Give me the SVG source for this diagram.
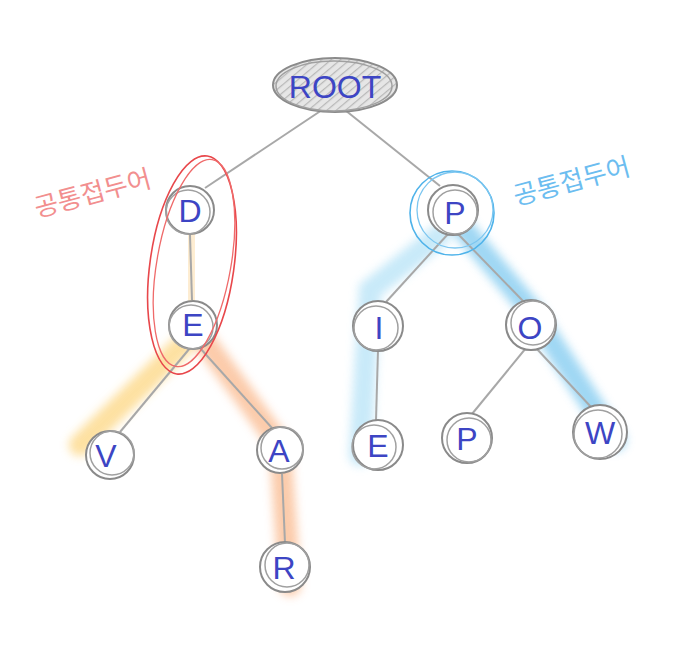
<svg xmlns="http://www.w3.org/2000/svg" width="684" height="668" viewBox="0 0 684 668">
<defs>
<filter id="blur" x="-50%" y="-50%" width="200%" height="200%"><feGaussianBlur stdDeviation="5"/></filter>
<pattern id="hatch" width="6" height="6" patternUnits="userSpaceOnUse" patternTransform="rotate(50)"><line x1="0" y1="0" x2="0" y2="6" stroke="#9a9a9a" stroke-width="2.5"/></pattern>
<style>
.edge{stroke:#a8a8a8;stroke-width:2;fill:none}
.node circle{fill:#fff;stroke:#8a8a8a;stroke-width:2}
.node .c2{fill:none;stroke:#a0a0a0;stroke-width:1.5}
.lbl{font-family:"Liberation Sans","Noto Sans",sans-serif;font-size:32px;fill:#3d45c4;text-anchor:middle;dominant-baseline:central}
.hl{fill:none;stroke-linecap:round;stroke-width:22;filter:url(#blur)}
.note{font-family:"Noto Sans CJK KR",sans-serif;font-size:26px}
</style>
</defs>
<rect width="684" height="668" fill="#fff"/>
<g id="highlights">
<path class="hl" d="M190 230 L193 325" stroke="#fde7c4" opacity="0.8"/>
<path class="hl" d="M193 335 L80 445" stroke="#fdd98a" opacity="0.8"/>
<path class="hl" d="M200 335 L280 445 L290 585" stroke="#fbc29c" opacity="0.85"/>
<path class="hl" d="M440 235 L370 290 L360 455" stroke="#bfe6f8" opacity="0.85"/>
<path class="hl" d="M460 225 L531 310 L615 440" stroke="#8fd0f2" opacity="0.85"/>
</g>
<g id="connectors">
<line class="edge" x1="322" y1="110" x2="205" y2="188"/>
<line class="edge" x1="345" y1="110" x2="440" y2="186"/>
<line class="edge" x1="190" y1="235" x2="192" y2="300"/>
<line class="edge" x1="190" y1="348" x2="120" y2="432"/>
<line class="edge" x1="200" y1="348" x2="272" y2="428"/>
<line class="edge" x1="282" y1="474" x2="285" y2="543"/>
<line class="edge" x1="448" y1="234" x2="386" y2="302"/>
<line class="edge" x1="458" y1="234" x2="524" y2="302"/>
<line class="edge" x1="378" y1="350" x2="376" y2="420"/>
<line class="edge" x1="526" y1="348" x2="472" y2="414"/>
<line class="edge" x1="536" y1="348" x2="592" y2="408"/>
</g>
<g id="root" class="node">
<ellipse cx="335" cy="85" rx="62" ry="27" fill="#e6e6e6" stroke="#8a8a8a" stroke-width="2"/>
<ellipse cx="335" cy="85" rx="62" ry="27" fill="url(#hatch)" opacity="0.6"/>
<ellipse cx="334" cy="86" rx="58" ry="25" fill="none" stroke="#a0a0a0" stroke-width="1.5"/>
<text class="lbl" x="335" y="87">ROOT</text>
</g>
<g id="node-D" class="node"><circle cx="190" cy="210" r="24"/><circle class="c2" cx="188" cy="212" r="22"/><text class="lbl" x="190" y="211">D</text></g>
<g id="node-E1" class="node"><circle cx="193" cy="325" r="24"/><circle class="c2" cx="191" cy="327" r="22"/><text class="lbl" x="193" y="325">E</text></g>
<g id="node-V" class="node"><circle cx="110" cy="455" r="24"/><circle class="c2" cx="112" cy="453" r="22"/><text class="lbl" x="106" y="456">V</text></g>
<g id="node-A" class="node"><circle cx="280" cy="450" r="23"/><circle class="c2" cx="282" cy="448" r="21"/><text class="lbl" x="279" y="451">A</text></g>
<g id="node-R" class="node"><circle cx="285" cy="567" r="25"/><circle class="c2" cx="287" cy="565" r="22"/><text class="lbl" x="284" y="568">R</text></g>
<g id="node-P" class="node"><circle cx="453" cy="210" r="25"/><circle class="c2" cx="455" cy="212" r="22"/><text class="lbl" x="455" y="213">P</text></g>
<g id="node-I" class="node"><circle cx="378" cy="326" r="25"/><circle class="c2" cx="376" cy="328" r="22"/><text class="lbl" x="379" y="328">I</text></g>
<g id="node-O" class="node"><circle cx="531" cy="325" r="25"/><circle class="c2" cx="533" cy="323" r="22"/><text class="lbl" x="530" y="328">O</text></g>
<g id="node-E2" class="node"><circle cx="378" cy="445" r="25"/><circle class="c2" cx="374" cy="447" r="22"/><text class="lbl" x="378" y="446">E</text></g>
<g id="node-P2" class="node"><circle cx="467" cy="438" r="25"/><circle class="c2" cx="469" cy="440" r="22"/><text class="lbl" x="467" y="439">P</text></g>
<g id="node-W" class="node"><circle cx="600" cy="432" r="27"/><circle class="c2" cx="598" cy="434" r="24"/><text class="lbl" x="600" y="433">W</text></g>
<g id="group-red">
<ellipse cx="192" cy="265" rx="42" ry="110" transform="rotate(8 192 265)" fill="none" stroke="#e8474b" stroke-width="1.6"/>
<ellipse cx="194" cy="263" rx="37" ry="105" transform="rotate(10 194 263)" fill="none" stroke="#ef6a6a" stroke-width="1.3"/>
<text class="note" x="95" y="202" fill="#f28f8f" text-anchor="middle" transform="rotate(-15 95 202)">공통접두어</text>
</g>
<g id="group-blue">
<circle cx="452" cy="213" r="42" fill="none" stroke="#4fb3ea" stroke-width="1.6"/>
<circle cx="455" cy="210" r="38" fill="none" stroke="#7cc6f0" stroke-width="1.3"/>
<text class="note" x="574" y="190" fill="#6cbdf0" text-anchor="middle" transform="rotate(-15 574 190)">공통접두어</text>
</g>
</svg>
